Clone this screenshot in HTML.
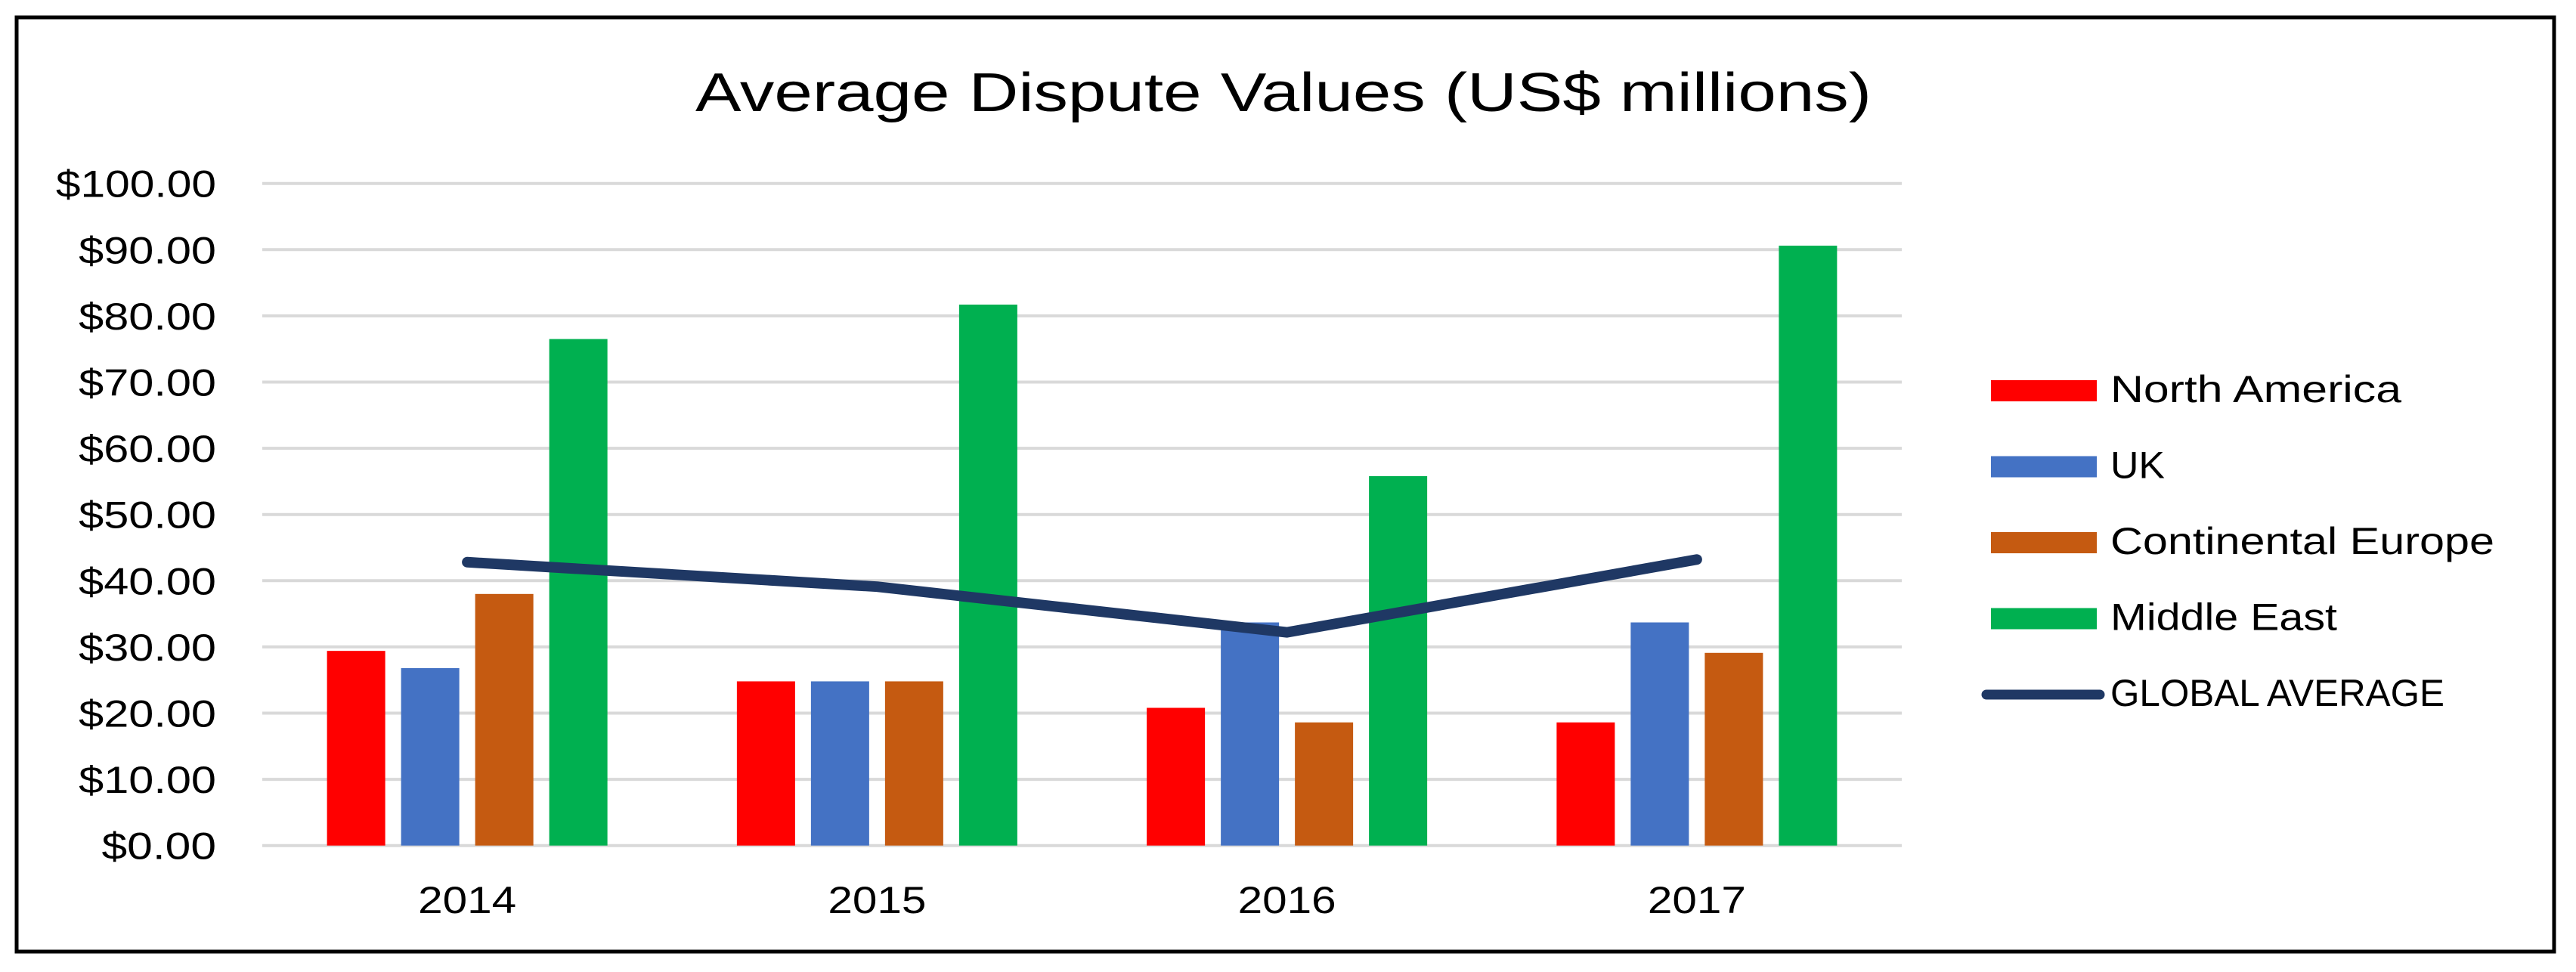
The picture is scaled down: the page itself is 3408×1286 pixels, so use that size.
<!DOCTYPE html>
<html><head><meta charset="utf-8"><style>
html,body{margin:0;padding:0;background:#fff;}
svg{display:block;font-family:"Liberation Sans",sans-serif;}
</style></head><body>
<svg id="chart" width="3408" height="1286" viewBox="0 0 3408 1286" xmlns="http://www.w3.org/2000/svg">
<rect x="22" y="23" width="3357" height="1236" fill="#fff" stroke="#000" stroke-width="5"/>
<text x="920" y="147" font-size="72" textLength="1556" lengthAdjust="spacingAndGlyphs" fill="#000">Average Dispute Values (US$ millions)</text>
<g id="grid"></g><g id="bars"></g><g id="line"></g><g id="axes"></g><g id="legend"></g>
</svg>
<script>
const categories = ["2014","2015","2016","2017"];
const seriesNames = ["North America","UK","Continental Europe","Middle East"];
const northAmerica = [29.4, 24.8, 20.8, 18.6];
const uk = [26.8, 24.8, 33.7, 33.7];
const continentalEurope = [38.0, 24.8, 18.6, 29.1];
const middleEast = [76.5, 81.7, 55.8, 90.6];
const globalAverage = [42.8, 39.1, 32.2, 43.2];
const yTicks = [0,10,20,30,40,50,60,70,80,90,100];
const yTickLabels = ["$0.00","$10.00","$20.00","$30.00","$40.00","$50.00","$60.00","$70.00","$80.00","$90.00","$100.00"];

const NS="http://www.w3.org/2000/svg";
const colors=["#ff0000","#4472c4","#c55a11","#00b050"];
const X0=347, X1=2516, Y0=1118.7, Y100=242.7;
const y = v => Y0 - (v/100)*(Y0-Y100);
const band = (X1-X0)/categories.length;
const xc = i => X0 + band*(i+0.5);
const barW=77, pitch=98;
function mk(tag, attrs, parent){const e=document.createElementNS(NS,tag);for(const k in attrs)e.setAttribute(k,attrs[k]);parent.appendChild(e);return e;}
const grid=document.getElementById('grid'), axes=document.getElementById('axes');
yTicks.forEach((t,i)=>{
  const l=mk('line',{x1:X0,x2:X1,y1:y(t),y2:y(t),stroke:'#d9d9d9','stroke-width':4},grid);
  
  
  const lab=yTickLabels[i];
  const tx=mk('text',{x:286,y:y(t)+18,'font-size':50,'text-anchor':'end',fill:'#000',textLength:lab.length*30.3,lengthAdjust:'spacingAndGlyphs'},axes);
  tx.textContent=lab;
  
  
});
categories.forEach((c,i)=>{
  const tx=mk('text',{x:xc(i),y:1208,'font-size':50,'text-anchor':'middle',fill:'#000',textLength:130,lengthAdjust:'spacingAndGlyphs'},axes);
  tx.textContent=c;
  
  
});
const series=[northAmerica,uk,continentalEurope,middleEast];
const bars=document.getElementById('bars');
series.forEach((s,si)=>{
  s.forEach((v,i)=>{
    const cx=xc(i)+(si-1.5)*pitch;
    const r=mk('rect',{x:cx-barW/2,y:y(v),width:barW,height:Y0-y(v),fill:colors[si]},bars);
    
    
  });
});
const pts=globalAverage.map((v,i)=>xc(i)+','+y(v)).join(' ');
const pl=mk('polyline',{points:pts,fill:'none',stroke:'#1f3864','stroke-width':14,'stroke-linecap':'round','stroke-linejoin':'round'},document.getElementById('line'));


const legend=document.getElementById('legend');
const legendLabels=seriesNames.concat(["GLOBAL AVERAGE"]);
const legendWidths=[385,72,508,300,442];
legendLabels.forEach((n,i)=>{
  const cy=517+i*100.5;
  let sw;
  if(i<4){sw=mk('rect',{x:2634,y:cy-14,width:140,height:28,fill:colors[i]},legend);}
  else{sw=mk('line',{x1:2628,x2:2778,y1:cy,y2:cy,stroke:'#1f3864','stroke-width':13,'stroke-linecap':'round'},legend);}
  
  
  const tx=mk('text',{x:2792,y:cy+15,'font-size':50,fill:'#000',textLength:legendWidths[i],lengthAdjust:'spacingAndGlyphs'},legend);
  tx.textContent=n;
  
  
});
</script>
</body></html>
